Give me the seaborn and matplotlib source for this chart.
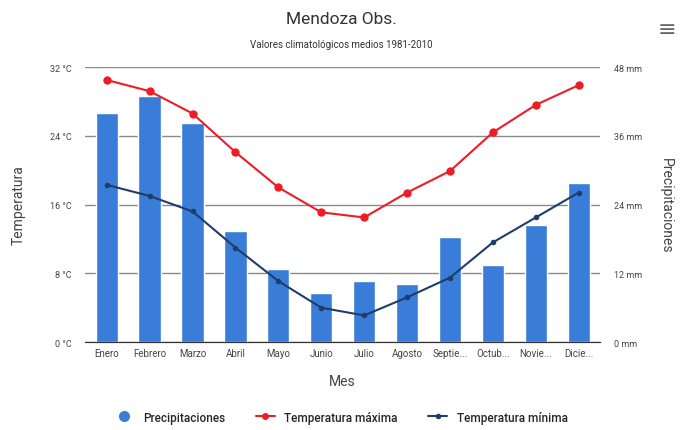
import numpy as np
import pandas as pd
import matplotlib
matplotlib.use("Agg")
import matplotlib.pyplot as plt
from matplotlib.lines import Line2D
import seaborn as sns

sns.set_style("white")
plt.rcParams["font.family"] = ["Roboto", "DejaVu Sans"]

# Climate normals 1981-2010, Mendoza Obs.
meses = ["Enero", "Febrero", "Marzo", "Abril", "Mayo", "Junio",
         "Julio", "Agosto", "Septiembre", "Octubre", "Noviembre", "Diciembre"]
etiquetas = ["Enero", "Febrero", "Marzo", "Abril", "Mayo", "Junio",
             "Julio", "Agosto", "Septie...", "Octub...", "Novie...", "Dicie..."]
precipitaciones = [40.0, 43.0, 38.3, 19.4, 12.7, 8.5, 10.6, 10.2, 18.4, 13.4, 20.5, 27.7]
temp_max = [30.5, 29.2, 26.6, 22.1, 18.0, 15.1, 14.5, 17.4, 19.9, 24.4, 27.6, 29.9]
temp_min = [18.3, 17.0, 15.2, 11.0, 7.1, 4.0, 3.1, 5.2, 7.5, 11.6, 14.5, 17.4]

df = pd.DataFrame({"Mes": meses, "Precip": precipitaciones,
                   "Tmax": temp_max, "Tmin": temp_min})

bar_color = "#3a7dd8"
red = "#ee1c25"
navy = "#1f3d6b"
text_color = "#444444"

fig = plt.figure(figsize=(6.82, 4.31), dpi=100)
ax_p = fig.add_axes([0.125, 0.204, 0.755, 0.638])
ax_t = ax_p.twinx()

# Precipitation bars (right axis), drawn behind the temperature lines
sns.barplot(data=df, x="Mes", y="Precip", color=bar_color, width=0.52,
            saturation=1, ax=ax_p, zorder=2)
ax_p.set_ylim(0, 48)
ax_p.set_yticks([0, 12, 24, 36, 48])
ax_p.set_yticklabels(["0 mm", "12 mm", "24 mm", "36 mm", "48 mm"])
ax_p.yaxis.tick_right()
ax_p.yaxis.set_label_position("right")
ax_p.set_ylabel("Precipitaciones", rotation=270, labelpad=22,
                fontsize=10, color=text_color)
ax_p.grid(axis="y", color="#8a8a8a", linewidth=1.0, zorder=0)
ax_p.set_axisbelow(True)

# Temperatures (left axis)
sns.lineplot(data=df, x="Mes", y="Tmax", color=red, marker="o", markersize=6,
             markeredgewidth=0, linewidth=1.5, ax=ax_t, sort=False)
sns.lineplot(data=df, x="Mes", y="Tmin", color=navy, marker="o", markersize=4,
             markeredgewidth=0, linewidth=1.5, ax=ax_t, sort=False)
ax_t.set_ylim(0, 32)
ax_t.set_yticks([0, 8, 16, 24, 32])
ax_t.set_yticklabels(["0 °C", "8 °C", "16 °C", "24 °C", "32 °C"])
ax_t.yaxis.tick_left()
ax_t.yaxis.set_label_position("left")
ax_t.set_ylabel("Temperatura", fontsize=10, color=text_color, labelpad=17)

ax_p.set_xlim(-0.5, 11.5)
ax_p.set_xticks(range(12))
ax_p.set_xticklabels(etiquetas)
ax_p.set_xticks(np.arange(-0.5, 12, 1), minor=True)
ax_p.tick_params(axis="x", which="major", length=0, labelsize=7,
                 labelcolor=text_color, pad=4)
ax_p.tick_params(axis="x", which="minor", length=5, color="#333333")
ax_p.set_xlabel("Mes", fontsize=10, color=text_color, labelpad=12)

for a in (ax_p, ax_t):
    for s in ("left", "right", "top"):
        a.spines[s].set_visible(False)
    a.spines["bottom"].set_color("#333333")
    a.tick_params(axis="y", length=0, labelsize=6.5, labelcolor=text_color, pad=10)

fig.text(0.5, 0.955, "Mendoza Obs.", ha="center", va="center",
         fontsize=12.5, color="#333333")
fig.text(0.5, 0.895, "Valores climatológicos medios 1981-2010", ha="center",
         va="center", fontsize=7, color="#333333")
fig.text(0.978, 0.93, "≡", ha="center", va="center", fontsize=16,
         color="#666666", family="DejaVu Sans")

handles = [
    Line2D([], [], linestyle="none", marker="o", markersize=8,
           markerfacecolor=bar_color, markeredgewidth=0),
    Line2D([], [], color=red, marker="o", markersize=5, linewidth=1.5,
           markeredgewidth=0),
    Line2D([], [], color=navy, marker="o", markersize=4, linewidth=1.5,
           markeredgewidth=0),
]
fig.legend(handles, ["Precipitaciones", "Temperatura máxima", "Temperatura mínima"],
           loc="center", bbox_to_anchor=(0.5, 0.03), ncol=3, frameon=False,
           handlelength=1.6, columnspacing=2.6,
           prop={"weight": "medium", "size": 8.5})

fig.savefig("out.png", dpi=100)
